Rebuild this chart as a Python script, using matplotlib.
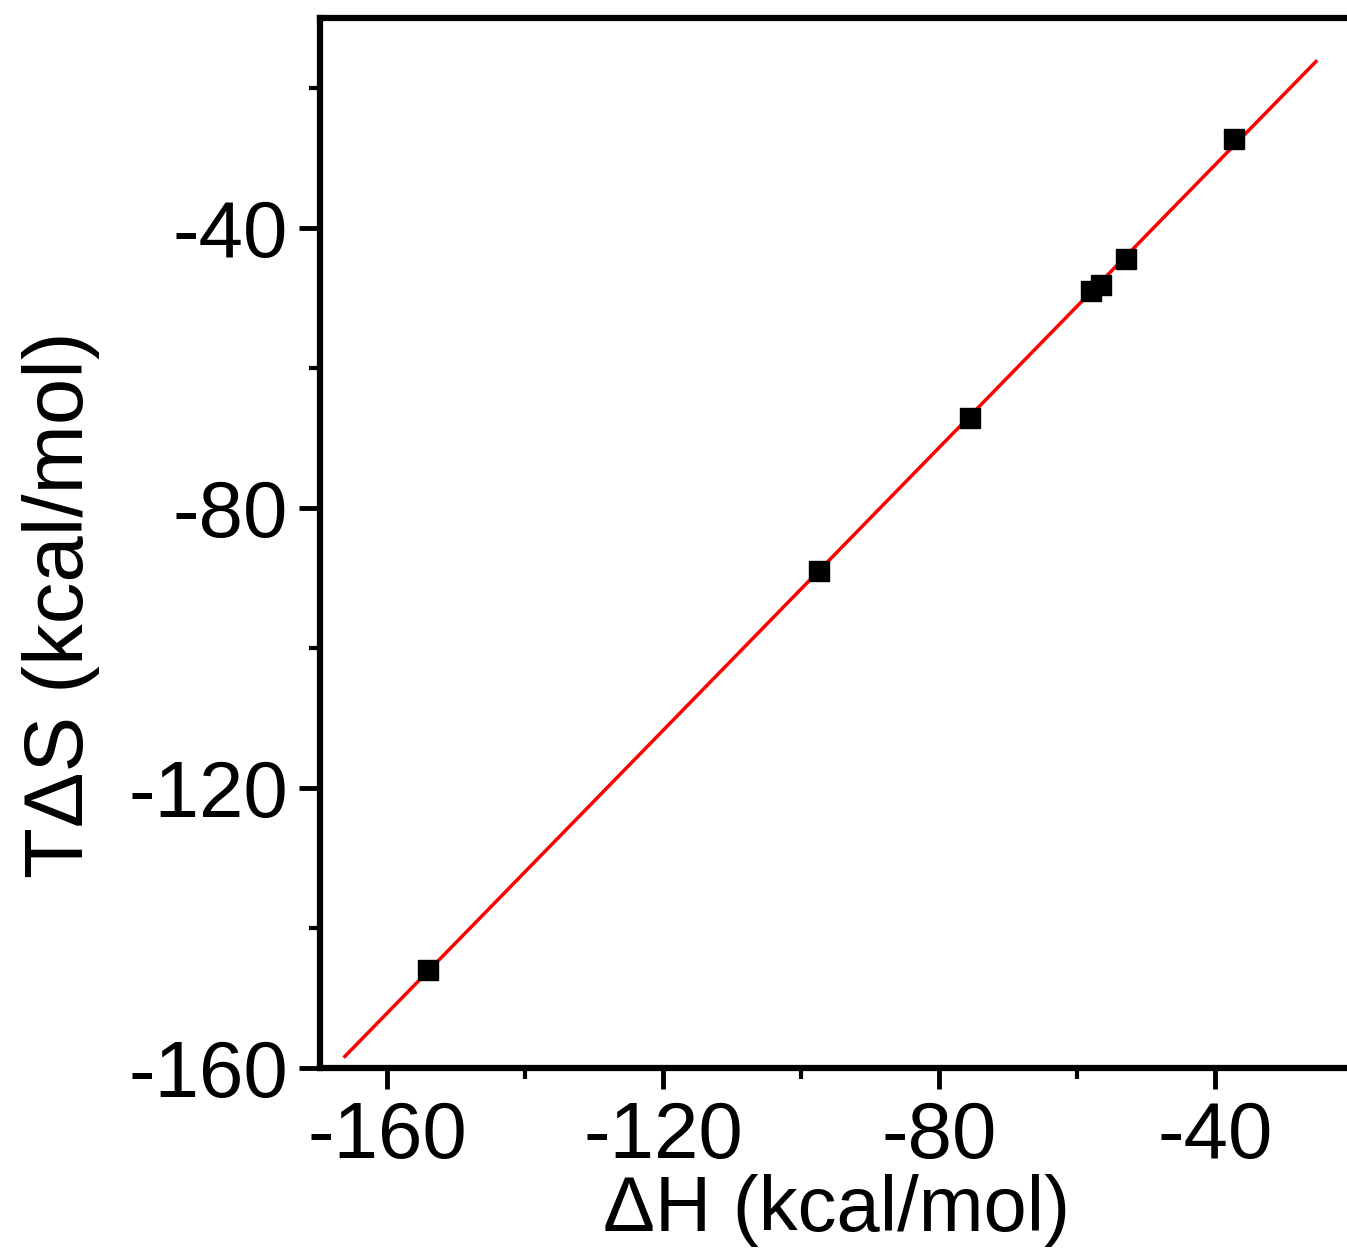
import numpy as np
import matplotlib
matplotlib.use("Agg")
import matplotlib.pyplot as plt
from matplotlib.ticker import MultipleLocator

# Enthalpy-entropy compensation data (kcal/mol)
delta_h = [-154.1, -97.4, -75.5, -58.0, -56.5, -52.9, -37.2]
t_delta_s = [-146.0, -89.0, -67.1, -49.0, -48.1, -44.4, -27.3]

# Range covered by the regression line
fit_start, fit_end = -166.1, -25.4

x_ticks = [-160, -120, -80, -40]
y_ticks = [-160, -120, -80, -40]

plt.rcParams["font.family"] = ["Liberation Sans", "DejaVu Sans"]

W, H = 1347, 1255
fig = plt.figure(figsize=(W / 100, H / 100), dpi=100)
left, right, bottom, top = 320, 1347, 1068, 18
ax = fig.add_axes([left / W, (H - bottom) / H, (right - left) / W, (bottom - top) / H])

slope, intercept = np.polyfit(delta_h, t_delta_s, 1)
xf = np.array([fit_start, fit_end])
ax.plot(xf, slope * xf + intercept, color="#ff0000", lw=2.5, zorder=2)
ax.plot(delta_h, t_delta_s, "s", color="black", ms=15, zorder=3)

ax.set_xlim(-169.7, -20.9)
ax.set_ylim(-160, -10)
ax.set_xticks(x_ticks)
ax.set_yticks(y_ticks)
ax.set_xticklabels([str(v) for v in x_ticks])
ax.set_yticklabels([str(v) for v in y_ticks])
ax.xaxis.set_minor_locator(MultipleLocator(20))
ax.yaxis.set_minor_locator(MultipleLocator(20))

for s in ["left", "top", "bottom"]:
    ax.spines[s].set_linewidth(4.5)
ax.spines["right"].set_visible(False)

ax.tick_params(which="major", direction="out", length=15, width=3.5,
               labelsize=57.5)
ax.tick_params(which="minor", direction="out", length=8, width=3)
ax.tick_params(axis="x", which="major", pad=8)
ax.tick_params(axis="y", which="major", pad=8)

ax.set_xlabel("ΔH (kcal/mol)", fontsize=56)
ax.set_ylabel("TΔS (kcal/mol)", fontsize=60)
ax.xaxis.set_label_coords(0.503, -0.101)
ax.yaxis.set_label_coords(-0.214, 0.441)

fig.savefig("out.png", dpi=100)
